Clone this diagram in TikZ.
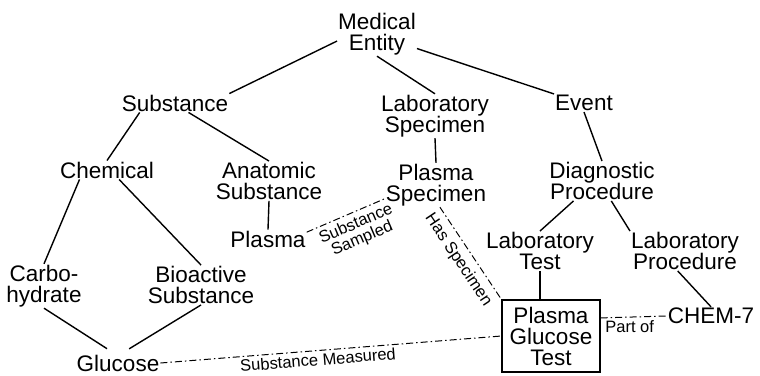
\documentclass[tikz,border=0pt]{standalone}
\usepackage{fontspec}
\setmainfont{Liberation Sans}
\begin{document}
\begin{tikzpicture}[x=1pt,y=-1pt,
    ent/.style={align=center, inner sep=1pt, font=\fontsize{22.5}{21}\selectfont},
    isa/.style={line width=1.4pt},
    rel/.style={line width=1pt, dash pattern=on 7pt off 3pt on 1.5pt off 3pt},
    lbl/.style={font=\fontsize{16.5}{16}\selectfont, inner sep=1pt, align=center}]
    \useasboundingbox (0,0) rectangle (760,375);

    % Konsep-konsep
    \node[ent] (medent) at (377,34) {Medical\\Entity};
    \node[ent] (subst) at (175,103) {Substance};
    \node[ent] (labspec) at (435,116) {Laboratory\\Specimen};
    \node[ent] (event) at (584,103) {Event};
    \node[ent] (chem) at (107,170) {Chemical};
    \node[ent] (anat) at (269,181) {Anatomic\\Substance};
    \node[ent] (plspec) at (436,185) {Plasma\\Specimen};
    \node[ent] (diag) at (602,181) {Diagnostic\\Procedure};
    \node[ent] (plasma) at (268,239) {Plasma};
    \node[ent] (carbo) at (44,286) {Carbo-\\hydrate};
    \node[ent] (bioact) at (201,285) {Bioactive\\Substance};
    \node[ent] (labtest) at (540,251) {Laboratory\\Test};
    \node[ent] (labproc) at (685,251) {Laboratory\\Procedure};
    \node[ent] (chemsev) at (711,316) {CHEM-7};
    \node[ent] (gluc) at (118,363) {Glucose};

    % Kotak tes
    \node[ent, draw, line width=1.3pt, minimum width=98pt, minimum height=72pt] (pgt) at (551,336) {Plasma\\Glucose\\Test};

    % Hierarki is-a
    \draw[isa] (medent.190) -- (subst.north east);
    \draw[isa] (medent.south) -- (labspec.north);
    \draw[isa] (medent.-20) -- (event.north west);
    \draw[isa] (subst.-165) -- (chem.north);
    \draw[isa] (subst.-35) -- (anat.north);
    \draw[isa] (labspec.south) -- (plspec.north);
    \draw[isa] (event.south) -- (diag.north);
    \draw[isa] (chem.-161) -- (carbo.north);
    \draw[isa] (chem.-38) -- (bioact.north);
    \draw[isa] (anat.south) -- (plasma.north);
    \draw[isa] (diag.-145) -- (labtest.north);
    \draw[isa] (diag.-65) -- (labproc.north west);
    \draw[isa] (labtest.south) -- (labtest.south |- pgt.north);
    \draw[isa] (labproc.-110) -- (chemsev.north);
    \draw[isa, shorten >=9pt] (carbo.south) -- (gluc.110);
    \draw[isa, shorten >=9pt] (bioact.south) -- (gluc.70);

    % Relasi lain
    \draw[rel] (plasma.10) -- (plspec.195) node[lbl, pos=0.57, below=3pt, sloped] {Substance\\Sampled};
    \draw[rel] (plspec.-80) -- (pgt.north west) node[lbl, pos=0.49, below=5pt, sloped] {Has Specimen};
    \draw[rel] (gluc.east) -- (pgt.west) node[lbl, pos=0.46, below=1.5pt, sloped] {Substance Measured};
    \draw[rel] (pgt.20) -- (chemsev.west) node[lbl, pos=0.44, below=2pt] {Part of};

\end{tikzpicture}
\end{document}
